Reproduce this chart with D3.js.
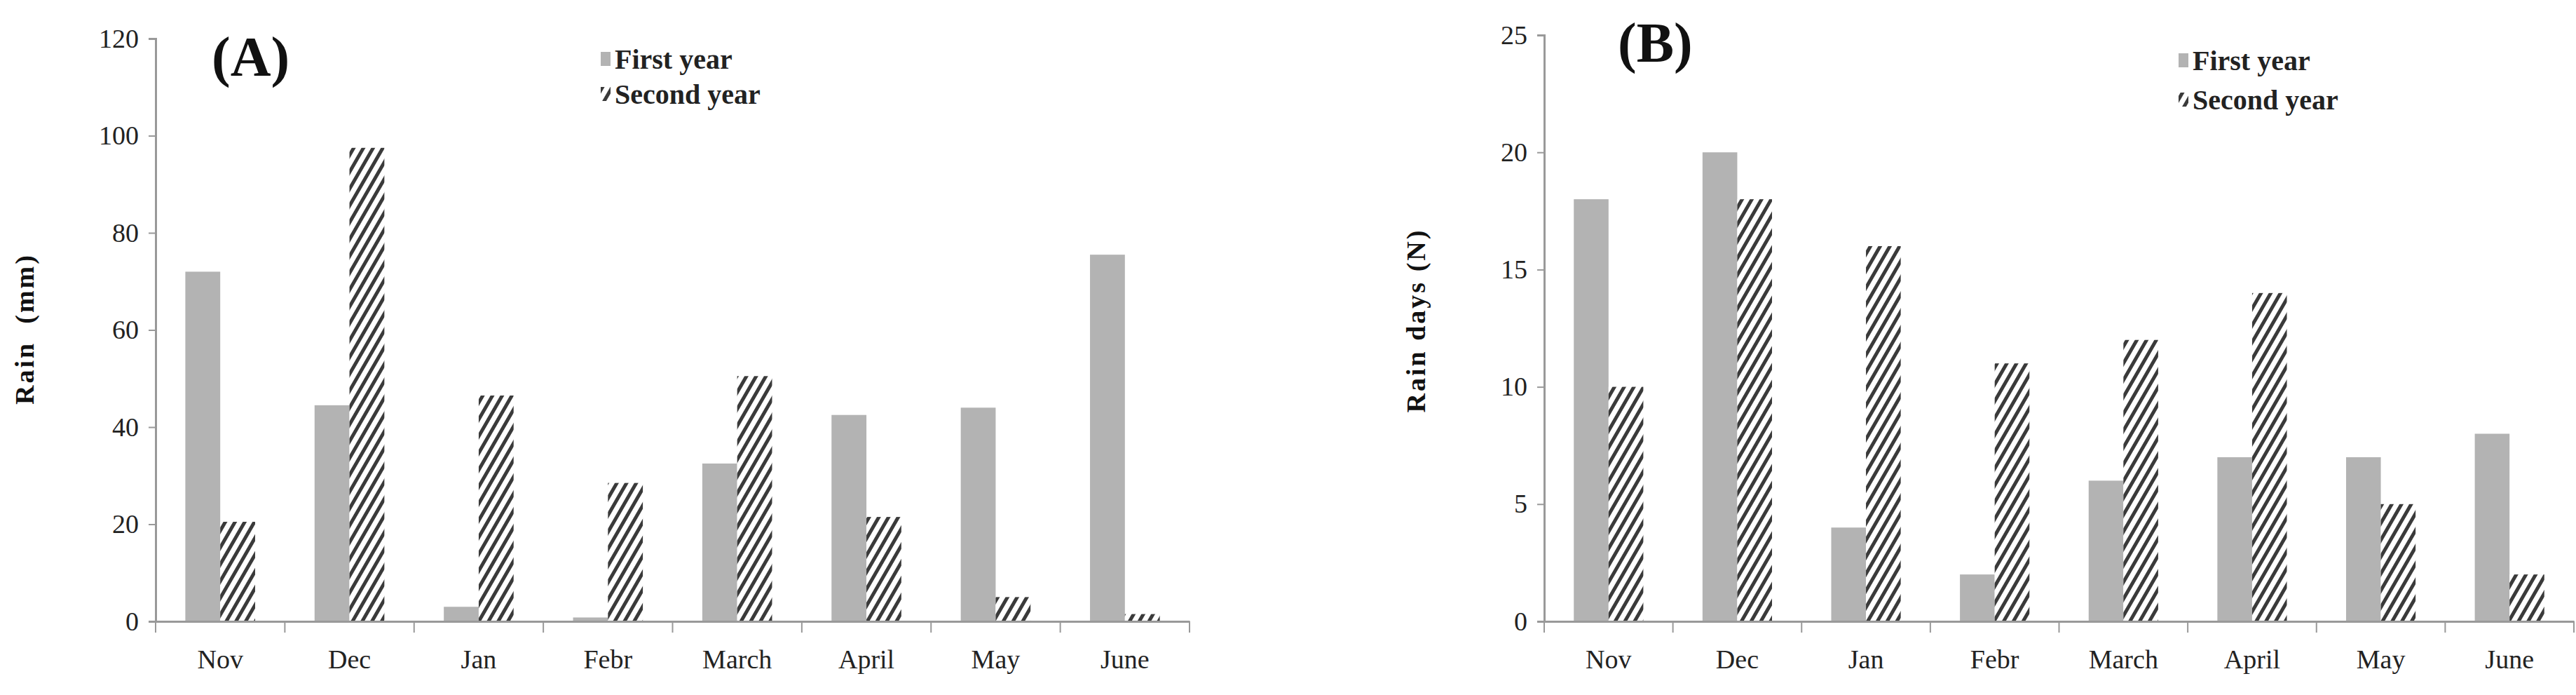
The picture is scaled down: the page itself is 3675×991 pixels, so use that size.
<!DOCTYPE html>
<html><head><meta charset="utf-8">
<script src="https://cdn.jsdelivr.net/npm/d3@7"></script>
<style>body{margin:0;background:#fff}</style></head>
<body><svg id="c" width="3675" height="991"></svg>
<script>
const months = ["Nov", "Dec", "Jan", "Febr", "March", "April", "May", "June"];
const rainFirst = [72, 44.5, 3, 0.8, 32.5, 42.5, 44, 75.5];
const rainSecond = [20.5, 97.5, 46.5, 28.5, 50.5, 21.5, 5, 1.5];
const daysFirst = [18, 20, 4, 2, 6, 7, 7, 8];
const daysSecond = [10, 18, 16, 11, 12, 14, 5, 2];
const rainTicks = [0, 20, 40, 60, 80, 100, 120];
const daysTicks = [0, 5, 10, 15, 20, 25];

const svg = d3.select("#c");
const defs = svg.append("defs");
const pat = defs.append("pattern").attr("id", "hatch")
  .attr("patternUnits", "userSpaceOnUse").attr("width", 12).attr("height", 12)
  .attr("patternTransform", "rotate(30)");
pat.append("rect").attr("width", 12).attr("height", 12).attr("fill", "#fff");
pat.append("rect").attr("width", 5).attr("height", 12).attr("fill", "#3a3a3a");

const font = "Liberation Serif, Times New Roman, serif";

function panel(o) {
  const g = svg.append("g");
  const x = d3.scaleBand().domain(months).range([o.x0, o.x1]).paddingInner(0.46).paddingOuter(0.23);
  const y = d3.scaleLinear().domain([0, o.max]).range([o.y0, o.y1]);
  const bw = x.bandwidth() / 2;

  g.selectAll(".f").data(months).enter().append("rect")
    .attr("x", d => x(d)).attr("width", bw)
    .attr("y", (d, i) => y(o.first[i])).attr("height", (d, i) => y(0) - y(o.first[i]))
    .attr("fill", "#b3b3b3");
  g.selectAll(".s").data(months).enter().append("rect")
    .attr("x", d => x(d) + bw).attr("width", bw)
    .attr("y", (d, i) => y(o.second[i])).attr("height", (d, i) => y(0) - y(o.second[i]))
    .attr("fill", "url(#hatch)");

  const yAxis = g.append("g").attr("transform", `translate(${o.x0},0)`)
    .call(d3.axisLeft(y).tickValues(o.ticks).tickSize(10).tickPadding(14));
  const step = (o.x1 - o.x0) / months.length;
  const xAxis = g.append("g").attr("transform", `translate(0,${o.y0})`)
    .call(d3.axisBottom(x).tickSize(0).tickPadding(40));
  xAxis.selectAll(".tk").data(d3.range(months.length + 1)).enter().append("line")
    .attr("x1", i => o.x0 + i * step).attr("x2", i => o.x0 + i * step)
    .attr("y1", 0).attr("y2", 16).attr("stroke", "#999").attr("stroke-width", 2);
  [yAxis, xAxis].forEach(a => {
    a.select(".domain").attr("stroke", "#999").attr("stroke-width", 3);
    a.selectAll(".tick line").attr("stroke", "#999").attr("stroke-width", 2);
    a.selectAll("text").attr("font-family", font).attr("font-size", 38).attr("fill", "#222");
  });

  g.append("text").attr("transform", `translate(${o.tx},${o.ty}) rotate(-90)`)
    .attr("text-anchor", "middle").attr("font-family", font).attr("font-weight", "bold")
    .attr("font-size", 38).attr("letter-spacing", 3).attr("fill", "#111")
    .attr("xml:space", "preserve").text(o.title);
  g.append("text").attr("x", o.lx).attr("y", o.ly).attr("font-family", font)
    .attr("font-weight", "bold").attr("font-size", 80).attr("fill", "#111").text(o.label);

  [["First year", "#b3b3b3", o.gy], ["Second year", "url(#hatch)", o.gy + o.gap]].forEach(([t, f, yy]) => {
    g.append("rect").attr("x", o.gx).attr("y", yy - 24).attr("width", 14).attr("height", 20).attr("fill", f);
    g.append("text").attr("x", o.gx + 20).attr("y", yy).attr("font-family", font)
      .attr("font-weight", "bold").attr("font-size", 40).attr("fill", "#222").text(t);
  });
}

panel({x0: 222, x1: 1697, y0: 886, y1: 55, max: 120, first: rainFirst, second: rainSecond,
  ticks: rainTicks, title: "Rain  (mm)", tx: 48, ty: 469, label: "(A)", lx: 302, ly: 108,
  gx: 857, gy: 98, gap: 50});
panel({x0: 2203, x1: 3672, y0: 886, y1: 50, max: 25, first: daysFirst, second: daysSecond,
  ticks: daysTicks, title: "Rain days (N)", tx: 2033, ty: 457, label: "(B)", lx: 2308, ly: 88,
  gx: 3108, gy: 100, gap: 56});
</script></body></html>
